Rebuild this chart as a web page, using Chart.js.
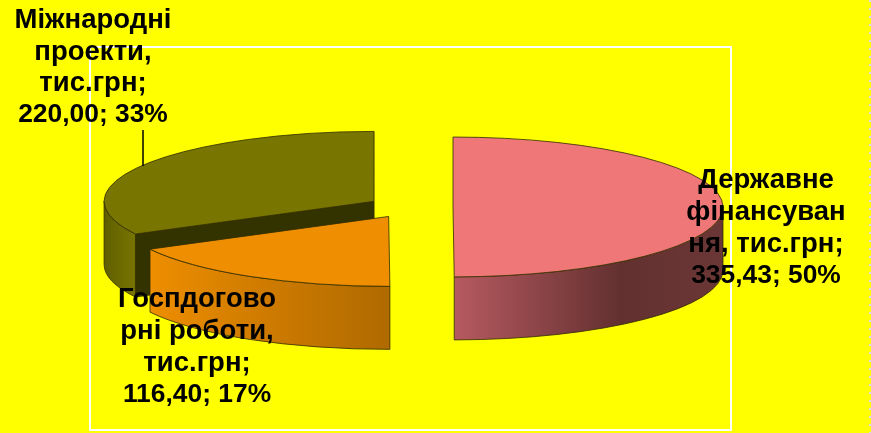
<!DOCTYPE html>
<html lang="uk">
<head>
<meta charset="utf-8">
<title>Джерела фінансування</title>
<script src="https://cdn.jsdelivr.net/npm/chart.js@4"></script>
<style>
    html, body { margin: 0; padding: 0; background: #ffff00; }
    canvas { display: block; }
</style>
</head>
<body>
<canvas id="pieChart" width="871" height="433"></canvas>
<script>
/* ==========================================================
   DATA
========================================================== */

const categories = ["Державне фінансування", "Госпдоговорні роботи", "Міжнародні проекти"];
const values = [335.43, 116.40, 220.00];

const labelLines = [
    ["Державне", "фінансуван", "ня, тис.грн;", "335,43; 50%"],
    ["Госпдогово", "рні роботи,", "тис.грн;", "116,40; 17%"],
    ["Міжнародні", "проекти,", "тис.грн;", "220,00; 33%"]
];

const topColors = ["#ef7777", "#ee8e00", "#787500"];
const wallColors = [
    [[0, "#b65a60"], [0.62, "#633030"], [1, "#6b3636"]],
    [[0, "#ee8e00"], [0.45, "#d07c00"], [1, "#b06a00"]],
    [[0, "#5f5f00"], [1, "#787500"]]
];

/* ==========================================================
   3D PIE SETTINGS
========================================================== */

const TILT = 0.259;
const DEPTH = 63;
const EXPLODE = 42.5;
const OUTLINE = "rgba(50,45,0,.8)";
const labelPos = [
    { x: 766, y: [188, 220, 252, 283] },
    { x: 197, y: [307, 339, 371, 402] },
    { x: 93, y: [28, 60, 91, 122] }
];

function sliceGeometry(arc) {

    const half = (arc.startAngle + arc.endAngle) / 2;

    return {
        cx: arc.x + Math.cos(half) * EXPLODE,
        cy: arc.y + Math.sin(half) * EXPLODE * TILT,
        r: arc.outerRadius,
        a: arc.startAngle,
        b: arc.endAngle
    };

}

/* outer rim that faces the viewer, between angle 0 and PI */
function rimPath(ctx, g) {

    const from = Math.max(g.a, 0);
    const to = Math.min(g.b, Math.PI);

    if (to <= from) {
        return false;
    }

    const ry = g.r * TILT;

    ctx.beginPath();
    ctx.ellipse(g.cx, g.cy, g.r, ry, 0, from, to);
    ctx.ellipse(g.cx, g.cy + DEPTH, g.r, ry, 0, to, from, true);
    ctx.closePath();

    return true;

}

/* cut face running from the centre to the end of the slice */
function cutPath(ctx, g, angle) {

    const ex = g.cx + Math.cos(angle) * g.r;
    const ey = g.cy + Math.sin(angle) * g.r * TILT;

    ctx.beginPath();
    ctx.moveTo(g.cx, g.cy);
    ctx.lineTo(ex, ey);
    ctx.lineTo(ex, ey + DEPTH);
    ctx.lineTo(g.cx, g.cy + DEPTH);
    ctx.closePath();

}

const pie3d = {

    id: "pie3d",

    beforeDraw(chart) {

        const ctx = chart.ctx;

        ctx.save();
        ctx.fillStyle = "#ffff00";
        ctx.fillRect(0, 0, chart.width, chart.height);

        ctx.strokeStyle = "#ffffff";
        ctx.lineWidth = 2;
        ctx.strokeRect(90, 47, 641, 383);

        ctx.strokeStyle = "#dcdcdc";
        ctx.setLineDash([2, 6]);
        ctx.beginPath();
        ctx.moveTo(870, 0);
        ctx.lineTo(870, chart.height);
        ctx.stroke();
        ctx.restore();

    },

    /* walls first, then the slice tops squashed into ellipses */
    beforeDatasetDraw(chart) {

        const ctx = chart.ctx;
        const arcs = chart.getDatasetMeta(0).data;

        ctx.save();
        ctx.lineWidth = 1;
        ctx.strokeStyle = OUTLINE;

        [2, 1, 0].forEach(i => {

            const g = sliceGeometry(arcs[i]);

            if (i === 2) {
                cutPath(ctx, g, g.a);
                ctx.fillStyle = "#333300";
                ctx.fill();
                ctx.stroke();
            }

            if (rimPath(ctx, g)) {

                const left = g.cx + Math.cos(Math.min(g.b, Math.PI)) * g.r;
                const right = g.cx + Math.cos(Math.max(g.a, 0)) * g.r;
                const grad = ctx.createLinearGradient(left, 0, right, 0);

                wallColors[i].forEach(stop => grad.addColorStop(stop[0], stop[1]));

                ctx.fillStyle = grad;
                ctx.fill();
                ctx.stroke();

            }

        });

        ctx.restore();

        arcs.forEach(arc => {

            const g = sliceGeometry(arc);

            ctx.save();
            ctx.translate(g.cx, g.cy);
            ctx.scale(1, TILT);
            ctx.translate(-arc.x, -arc.y);
            arc.draw(ctx);
            ctx.restore();

            ctx.save();
            ctx.lineWidth = 1;
            ctx.strokeStyle = OUTLINE;
            ctx.beginPath();
            ctx.moveTo(g.cx, g.cy);
            ctx.ellipse(g.cx, g.cy, g.r, g.r * TILT, 0, g.a, g.b);
            ctx.closePath();
            ctx.stroke();
            ctx.restore();

        });

        return false;

    },

    afterDatasetsDraw(chart) {

        const ctx = chart.ctx;

        ctx.save();

        /* leader line of the Міжнародні label */
        ctx.strokeStyle = "#000000";
        ctx.lineWidth = 1.5;
        ctx.beginPath();
        ctx.moveTo(143, 130);
        ctx.lineTo(143, 166);
        ctx.stroke();

        ctx.fillStyle = "#000000";
        ctx.textAlign = "center";
        ctx.textBaseline = "alphabetic";

        labelLines.forEach((lines, i) => {

            lines.forEach((line, j) => {

                /* the number line runs a bit narrower in the original */
                const size = j === lines.length - 1 ? 26.4 : 27.5;

                ctx.font = "bold " + size + "px 'Liberation Sans', Arial, sans-serif";
                ctx.fillText(line, labelPos[i].x, labelPos[i].y[j]);

            });

        });

        ctx.restore();

    }

};

/* ==========================================================
   PIE CHART
========================================================== */

new Chart(document.getElementById("pieChart").getContext("2d"), {

    type: "pie",

    data: {

        labels: categories,

        datasets: [{

            data: values,

            backgroundColor: topColors,

            borderWidth: 0

        }]

    },

    options: {

        responsive: false,

        animation: false,

        radius: 270,

        layout: {

            padding: { right: 50, bottom: 19 }

        },

        plugins: {

            legend: {

                display: false

            },

            tooltip: {

                enabled: false

            }

        }

    },

    plugins: [pie3d]

});
</script>
</body>
</html>
